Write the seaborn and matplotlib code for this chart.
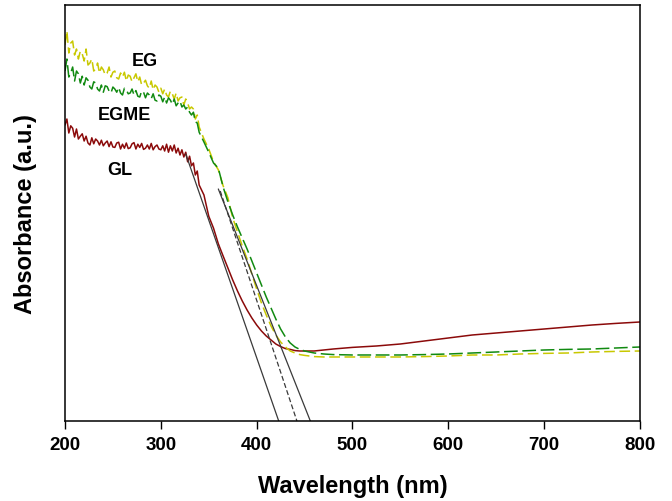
import numpy as np
import pandas as pd
import seaborn as sns
import matplotlib.pyplot as plt

# --- data (absorbance in arbitrary units) -----------------------------------
wl_noisy = np.arange(200, 341, 2)
wl_edge = [345, 350, 355, 360, 365, 370, 375, 380, 385, 390, 395, 400, 405,
           410, 415, 420, 425, 430, 435, 440, 445, 450, 455, 460, 470, 480]
wl_tail = [500, 525, 550, 575, 600, 625, 650, 675, 700, 725, 750, 775, 800]

eg_noisy = [0.94, 0.975, 0.92, 0.945, 0.95, 0.915, 0.93, 0.905, 0.925, 0.918,
            0.90, 0.93, 0.89, 0.895, 0.905, 0.875, 0.88, 0.895, 0.87, 0.885,
            0.878, 0.865, 0.87, 0.885, 0.86, 0.872, 0.875, 0.858, 0.855, 0.87,
            0.86, 0.872, 0.85, 0.865, 0.862, 0.848, 0.858, 0.868, 0.848, 0.86,
            0.84, 0.845, 0.852, 0.838, 0.832, 0.85, 0.828, 0.84, 0.835, 0.822,
            0.832, 0.818, 0.83, 0.815, 0.81, 0.825, 0.818, 0.805, 0.82, 0.80,
            0.808, 0.81, 0.79, 0.805, 0.795, 0.78, 0.785, 0.78, 0.755, 0.765,
            0.735]
eg_edge = [0.705, 0.68, 0.648, 0.628, 0.588, 0.558, 0.508, 0.4725, 0.4375,
           0.405, 0.3675, 0.33, 0.295, 0.265, 0.2375, 0.215, 0.1975, 0.185,
           0.175, 0.17, 0.166, 0.164, 0.1625, 0.161, 0.16, 0.16]
eg_tail = [0.16, 0.16, 0.16, 0.161, 0.1625, 0.165, 0.165, 0.1675, 0.169,
           0.17, 0.1725, 0.174, 0.175]

egme_noisy = [0.875, 0.905, 0.86, 0.87, 0.885, 0.85, 0.875, 0.868, 0.845, 0.862,
              0.84, 0.858, 0.852, 0.835, 0.83, 0.848, 0.845, 0.83, 0.825, 0.84,
              0.822, 0.838, 0.836, 0.825, 0.82, 0.835, 0.83, 0.822, 0.834, 0.82,
              0.815, 0.832, 0.828, 0.818, 0.82, 0.83, 0.815, 0.826, 0.812, 0.81,
              0.825, 0.822, 0.808, 0.82, 0.815, 0.806, 0.818, 0.802, 0.80, 0.815,
              0.812, 0.798, 0.81, 0.795, 0.808, 0.802, 0.792, 0.805, 0.788, 0.795,
              0.80, 0.785, 0.79, 0.78, 0.785, 0.772, 0.765, 0.772, 0.748, 0.745,
              0.722]
egme_edge = [0.6975, 0.672, 0.645, 0.632, 0.585, 0.548, 0.515, 0.485, 0.4575,
             0.43, 0.40, 0.37, 0.34, 0.31, 0.2825, 0.255, 0.23, 0.21, 0.195,
             0.185, 0.179, 0.175, 0.1725, 0.17, 0.1675, 0.166]
egme_tail = [0.165, 0.165, 0.165, 0.166, 0.1675, 0.17, 0.1725, 0.175, 0.1775,
             0.179, 0.18, 0.1825, 0.185]

gl_noisy = [0.74, 0.755, 0.72, 0.738, 0.732, 0.71, 0.73, 0.705, 0.712, 0.718,
            0.70, 0.712, 0.695, 0.69, 0.708, 0.693, 0.705, 0.70, 0.69, 0.702,
            0.688, 0.695, 0.70, 0.686, 0.698, 0.685, 0.684, 0.695, 0.697, 0.68,
            0.692, 0.682, 0.695, 0.681, 0.683, 0.693, 0.696, 0.68, 0.692, 0.684,
            0.694, 0.679, 0.682, 0.69, 0.68, 0.694, 0.678, 0.686, 0.69, 0.68,
            0.678, 0.688, 0.675, 0.692, 0.672, 0.688, 0.675, 0.69, 0.67, 0.682,
            0.665, 0.678, 0.66, 0.672, 0.648, 0.662, 0.638, 0.645, 0.615, 0.625,
            0.59]
gl_edge = [0.565, 0.512, 0.482, 0.443, 0.4125, 0.3825, 0.3525, 0.325, 0.30,
           0.2775, 0.2575, 0.24, 0.225, 0.2125, 0.2025, 0.1925, 0.186, 0.181,
           0.179, 0.176, 0.175, 0.175, 0.175, 0.175, 0.1775, 0.18]
gl_tail = [0.184, 0.1875, 0.1925, 0.20, 0.2075, 0.215, 0.22, 0.225, 0.23,
           0.235, 0.24, 0.244, 0.2475]

# tangent lines used for the band-edge onset (GL, EG, EGME)
tangent_top_wl = [326, 362, 360]
tangent_top_abs = [0.6675, 0.575, 0.58]
onset_wl = [423, 442, 456]

# --- build a long table -----------------------------------------------------
wl = np.concatenate([wl_noisy, wl_edge, wl_tail])
spectra = pd.DataFrame({
    "Wavelength": np.tile(wl, 3),
    "Absorbance": np.concatenate([eg_noisy + eg_edge + eg_tail,
                                  egme_noisy + egme_edge + egme_tail,
                                  gl_noisy + gl_edge + gl_tail]),
    "Solvent": np.repeat(["EG", "EGME", "GL"], len(wl)),
})

# --- plot -------------------------------------------------------------------
sns.set_theme(style="ticks")
plt.rcParams["font.family"] = ["Liberation Sans", "DejaVu Sans"]
plt.rcParams["font.weight"] = "bold"
plt.rcParams["text.color"] = "black"
plt.rcParams["axes.labelcolor"] = "black"

fig, ax = plt.subplots(figsize=(6.72, 5.02), dpi=100)
fig.subplots_adjust(left=0.0967, right=0.9524, top=0.988, bottom=0.1594)

colors = {"EG": "#c8c800", "EGME": "#118a11", "GL": "#8b0a0a"}
styles = {"EG": (0, (7, 3)), "EGME": (0, (9, 3)), "GL": "-"}
for name in ["GL", "EG", "EGME"]:
    sub = spectra[spectra["Solvent"] == name]
    sns.lineplot(data=sub, x="Wavelength", y="Absorbance", ax=ax,
                 color=colors[name], linestyle=styles[name], lw=1.1)

tangent_styles = ["-", (0, (4, 2)), "-"]
for i in range(3):
    sns.lineplot(x=[tangent_top_wl[i], onset_wl[i]], y=[tangent_top_abs[i], 0],
                 ax=ax, color="#3a3a3a", linestyle=tangent_styles[i], lw=0.9)

# curve labels
ax.text(283, 0.9025, "EG", ha="center", va="center", fontsize=13,
        fontweight="bold", color="black")
ax.text(262, 0.7675, "EGME", ha="center", va="center", fontsize=13,
        fontweight="bold", color="black")
ax.text(257, 0.63, "GL", ha="center", va="center", fontsize=13,
        fontweight="bold", color="black")

ax.set_xlim(200, 800)
ax.set_ylim(0, 1.04)
ax.set_xticks([200, 300, 400, 500, 600, 700, 800])
ax.set_yticks([])
ax.tick_params(axis="x", direction="out", length=6, width=1, pad=5,
               labelsize=13.5, colors="black")
for lab in ax.get_xticklabels():
    lab.set_fontweight("bold")
for side in ["left", "right", "top", "bottom"]:
    ax.spines[side].set_visible(True)
    ax.spines[side].set_color("black")
    ax.spines[side].set_linewidth(1.1)

ax.set_xlabel("Wavelength (nm)", fontsize=17, fontweight="bold", labelpad=15,
              color="black")
ax.set_ylabel("Absorbance (a.u.)", fontsize=17, fontweight="bold", labelpad=20,
              color="black")

fig.savefig("out.png", dpi=100)
